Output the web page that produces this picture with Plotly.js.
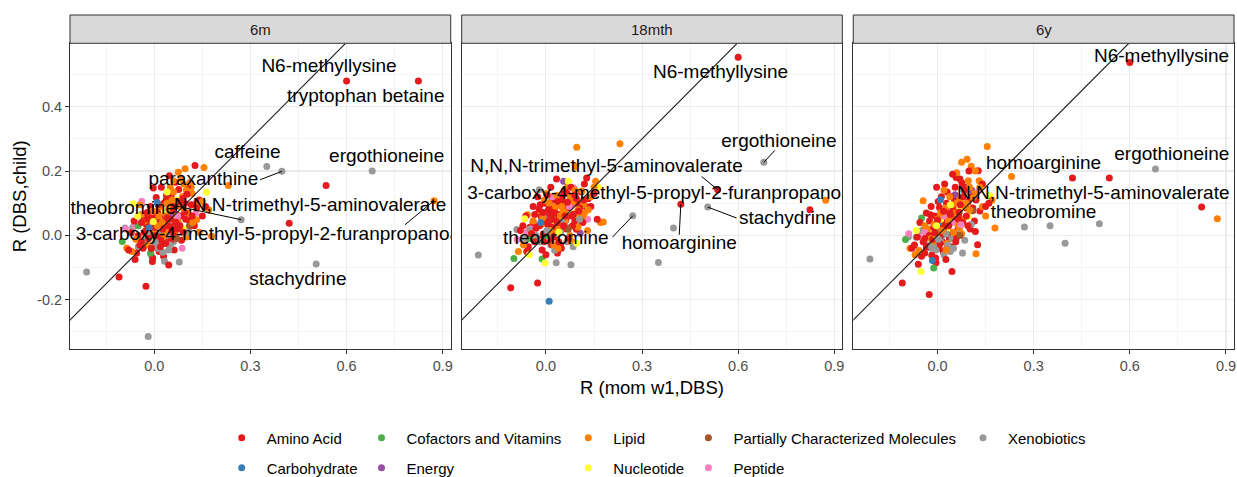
<!DOCTYPE html>
<html><head><meta charset="utf-8">
<script src="https://cdn.plot.ly/plotly-3.0.1.min.js"></script>
<style>html,body{margin:0;padding:0;background:#fff}#chart{width:1237px;height:477px}</style>
</head><body><div id="chart"></div>
<script>
// ---------------- DATA ----------------
const panels = ['6m', '18mth', '6y'];
const categoryCodes = {A:'Amino Acid', C:'Carbohydrate', V:'Cofactors and Vitamins', E:'Energy', L:'Lipid',
  N:'Nucleotide', P:'Partially Characterized Molecules', Pe:'Peptide', X:'Xenobiotics'};
const legendColumns = [['A','C'], ['V','E'], ['L','N'], ['P','Pe'], ['X']];
const categoryColors = {A:'#E41A1C', C:'#377EB8', V:'#4DAF4A', E:'#984EA3', L:'#FF7F00',
  N:'#FFFF33', P:'#A65628', Pe:'#F781BF', X:'#999999'};

// first ten entries of the value arrays are the named metabolites
const metabolite = ['N6-methyllysine','tryptophan betaine','caffeine','paraxanthine','ergothioneine',
  'N,N,N-trimethyl-5-aminovalerate','3-carboxy-4-methyl-5-propyl-2-furanpropanoate','theobromine','homoarginine','stachydrine'];

function rep(c, n){ const a=[]; for(let i=0;i<n;i++) a.push(c); return a; }
const category = [].concat(
  ['A','A','X','X','X','A','L','X','A','X'],
  ['L','L','X','A','A','X','C','X','L','L','N','A','L','A','A','A','L','A','A'],
  rep('A',60), rep('L',32), rep('X',14),
  ['V','V','V','V','C','C','E','E','P','P','Pe','Pe','Pe','Pe','Pe','Pe','N','N','N','N','N','N'],
  ['A','A','L','A','X','A','L','A','Pe','A', 'L','A','X','A','L','A','N','A','L','A',
   'X','A','L','A','A','L','A','X','A','L', 'A','V','A','L','A','X','A','L','A','Pe',
   'A','L','A','N','A','L','A','X','A','L']
);

const rMomW1 = [
  0.600,0.824,0.351,0.398,0.680,0.536,0.873,0.271,0.421,0.505,
  0.231,0.179,-0.211,-0.110,-0.026,-0.019,0.010,0.078,0.096,0.155,0.163,0.127,0.132,0.045,-0.006,-0.003,0.120,0.118,0.125,
  0.012,-0.031,0.067,0.024,0.051,0.095,-0.009,0.076,0.018,0.041,
  -0.022,0.132,0.006,-0.045,0.058,0.029,-0.063,0.102,0.015,0.048,
  -0.018,0.083,0.037,-0.072,0.120,0.000,0.062,0.022,-0.035,0.090,
  0.044,0.140,-0.005,0.071,0.033,-0.055,0.115,0.008,0.053,-0.026,
  0.098,0.019,0.066,-0.012,0.085,0.150,0.030,-0.040,0.105,0.057,
  0.002,0.078,-0.080,0.160,0.036,0.047,0.026,-0.060,0.060,0.004,
  0.045,0.088,-0.014,0.034,0.112,0.063,-0.058,0.075,0.092,-0.086,
  0.020,0.150,0.010,-0.030,0.060,0.140,0.027,0.080,-0.045,0.105,
  0.050,0.170,0.001,0.118,0.038,0.068,-0.020,0.085,0.014,0.130,
  -0.070,0.100,
  0.003,-0.067,0.027,0.032,-0.091,0.010,-0.021,0.050,0.065,-0.050,0.020,0.105,-0.010,0.040,
  -0.100,-0.012,0.025,-0.050,0.009,-0.016,0.107,0.055,0.110,0.070,
  0.087,-0.039,-0.090,0.073,0.130,0.020,-0.066,-0.003,0.096,0.070,-0.052,0.040,
  0.021,-0.015,0.055,0.035,-0.030,0.010,0.025,0.080,-0.060,-0.040,
  0.100,0.015,0.045,0.065,-0.010,0.005,0.030,0.050,0.070,-0.025,
  0.015,0.090,0.040,-0.050,0.028,0.115,0.060,-0.005,0.110,-0.040,
  0.038,0.005,-0.008,0.075,0.055,0.085,0.012,0.030,0.095,0.045,
  -0.020,0.060,0.020,0.010,0.070,-0.005,0.040,0.060,-0.035,0.090
];
const r6m = [
  0.480,0.480,0.214,0.199,0.200,0.155,0.108,0.049,0.038,-0.089,
  0.155,-0.003,-0.114,-0.129,-0.158,-0.314,0.046,-0.083,0.207,0.211,0.134,0.217,0.049,-0.092,-0.081,0.147,0.040,0.060,0.030,
  0.035,0.010,0.041,0.064,-0.018,0.072,-0.041,0.143,0.002,0.031,
  0.071,0.085,0.118,-0.030,0.095,-0.065,0.045,0.128,0.080,0.005,
  -0.010,0.060,0.110,0.008,0.040,0.025,-0.045,0.150,0.060,0.010,
  0.070,0.110,-0.070,0.020,0.045,-0.055,0.095,0.058,0.125,0.015,
  0.050,-0.035,0.165,0.090,-0.015,0.060,0.100,0.040,0.155,0.028,
  -0.025,0.105,-0.045,0.090,-0.005,0.185,0.020,-0.075,0.000,0.000,
  0.082,0.121,0.052,0.018,0.165,0.008,-0.012,0.196,0.160,-0.039,
  0.090,0.105,0.030,0.045,0.135,0.010,-0.020,0.090,0.095,0.070,
  0.150,0.080,0.012,0.130,0.060,0.020,-0.030,0.175,0.060,0.100,
  -0.050,-0.005,
  -0.021,0.025,-0.052,-0.080,0.023,-0.040,0.010,-0.030,0.005,-0.035,0.015,0.010,-0.060,0.000,
  -0.019,-0.055,0.010,0.030,0.102,0.023,0.022,0.060,0.030,-0.010,
  -0.040,0.106,0.020,0.060,0.070,-0.030,0.098,0.043,0.020,0.110,0.060,0.135,
  0.041,0.005,0.110,-0.025,-0.015,0.070,0.040,0.030,0.030,-0.020,
  0.140,-0.050,-0.045,0.090,0.020,0.045,0.075,0.050,0.060,0.035,
  -0.005,0.115,0.100,0.000,0.010,0.150,0.080,0.030,0.045,0.065,
  0.125,-0.010,0.055,0.040,0.020,0.020,0.095,0.000,0.100,0.030,
  0.050,0.170,-0.015,0.010,0.065,0.075,0.055,-0.020,-0.040,0.085
];
const r18mth = [
  0.554,0.080,-0.084,0.023,0.227,0.142,0.109,0.061,0.097,0.088,
  0.285,0.042,-0.061,-0.163,-0.148,-0.020,-0.205,-0.091,0.274,0.168,0.150,0.178,0.080,-0.030,-0.020,0.100,0.070,0.110,0.090,
  0.048,0.022,0.103,-0.005,0.088,0.019,0.071,0.092,-0.028,0.055,
  0.082,0.114,0.033,0.005,0.140,0.010,0.060,0.075,0.150,-0.040,
  0.095,0.030,0.066,0.030,0.160,-0.060,0.048,0.110,-0.020,0.125,
  0.015,0.090,0.045,-0.010,0.175,-0.035,0.040,0.080,0.055,0.120,
  0.100,0.025,0.130,-0.045,0.065,0.130,0.000,0.090,0.085,0.135,
  0.010,0.150,0.015,0.050,-0.055,0.120,0.070,-0.050,0.095,0.125,
  0.061,0.067,0.035,0.124,0.138,0.027,0.064,0.120,0.214,-0.050,
  0.060,0.150,0.100,-0.015,0.045,0.120,0.020,-0.020,0.005,0.055,
  0.090,0.040,0.130,0.095,-0.040,0.155,0.075,0.105,0.015,0.015,
  -0.030,0.025,
  0.015,-0.011,-0.046,-0.085,0.018,0.030,0.142,0.045,-0.020,0.020,0.050,0.050,-0.010,0.005,
  -0.072,-0.073,0.082,-0.010,0.101,0.040,0.007,0.168,0.045,0.020,
  0.147,0.035,-0.013,0.090,0.050,0.120,0.052,-0.086,-0.024,0.168,-0.060,0.010,
  0.028,0.058,0.075,0.040,0.000,0.095,-0.030,0.060,0.010,0.040,
  0.080,-0.015,0.010,0.020,0.055,0.015,0.040,0.110,0.100,-0.010,
  -0.030,0.045,0.030,0.025,0.085,0.060,0.060,0.060,0.135,0.045,
  0.105,0.000,0.005,0.000,0.030,-0.035,0.065,0.090,0.115,0.060,
  0.030,0.070,0.050,0.020,0.085,0.110,-0.020,0.030,0.065,0.140
];
const r6y = [
  0.537,0.088,0.030,-0.024,0.206,0.178,0.052,0.026,0.178,0.036,
  0.183,0.023,-0.073,-0.148,-0.184,-0.035,0.030,-0.055,0.170,0.276,0.124,0.201,0.150,-0.112,-0.070,0.150,-0.057,0.012,-0.029,
  0.020,-0.035,0.072,0.041,0.058,0.104,0.008,0.163,-0.051,0.121,
  0.064,0.076,0.087,-0.020,0.180,-0.040,-0.005,0.020,0.035,0.085,
  -0.062,0.140,-0.010,-0.030,0.110,0.048,0.015,0.160,0.070,0.060,
  -0.035,0.160,-0.085,0.095,0.055,0.040,0.045,-0.025,0.110,0.000,
  0.200,0.075,0.065,0.025,0.150,0.090,0.135,-0.055,0.120,-0.020,
  0.105,0.040,-0.040,0.100,0.010,0.190,-0.075,-0.090,0.000,-0.005,
  0.095,0.135,-0.022,0.044,0.118,0.033,-0.047,0.227,0.237,-0.040,
  0.140,0.060,0.070,0.020,0.195,0.090,-0.045,0.050,0.108,0.215,
  0.010,0.110,0.052,0.200,0.120,0.020,-0.010,0.090,0.015,0.170,
  -0.060,0.080,
  -0.012,-0.006,0.005,-0.030,-0.005,-0.020,-0.040,-0.040,0.040,0.015,-0.060,0.035,-0.025,-0.050,
  -0.013,-0.101,0.054,0.054,0.111,-0.078,0.140,0.126,0.077,0.000,
  0.140,0.009,0.005,0.033,0.140,0.060,0.015,0.030,0.059,0.080,-0.112,0.095,
  0.052,-0.012,0.070,0.030,-0.030,0.000,0.085,0.120,0.000,-0.010,
  0.150,-0.020,-0.010,0.050,0.035,-0.040,0.020,0.075,0.110,0.045,
  0.000,0.085,0.060,-0.065,0.100,0.130,-0.005,-0.045,0.085,0.030,
  0.070,0.010,0.060,0.005,0.150,-0.015,0.120,-0.025,0.030,0.040,
  0.090,0.100,0.025,0.050,0.175,0.000,0.065,0.005,-0.035,0.100
];
const panelValues = [r6m, r18mth, r6y];

const xTickVals = [0, 0.3, 0.6, 0.9];
const xTickText = ['0.0', '0.3', '0.6', '0.9'];
const yTickVals = [-0.2, 0, 0.2, 0.4];
const yTickText = ['-0.2', '0.0', '0.2', '0.4'];

// label placement (text centre, optional segment start) — layout only
const labelPlacement = [
  {panel:0, name:'N6-methyllysine', tx:0.545, ty:0.522},
  {panel:0, name:'tryptophan betaine', tx:0.660, ty:0.430},
  {panel:0, name:'caffeine', tx:0.291, ty:0.256},
  {panel:0, name:'paraxanthine', tx:0.153, ty:0.170, sx:0.330, sy:0.173},
  {panel:0, name:'ergothioneine', tx:0.725, ty:0.242},
  {panel:0, name:'theobromine', tx:-0.097, ty:0.080, sx:0.065, sy:0.092},
  {panel:0, name:'N,N,N-trimethyl-5-aminovalerate', tx:0.486, ty:0.090},
  {panel:0, name:'3-carboxy-4-methyl-5-propyl-2-furanpropanoate', tx:0.379, ty:-0.001, sx:0.782, sy:0.033},
  {panel:0, name:'stachydrine', tx:0.448, ty:-0.138},
  {panel:1, name:'N6-methyllysine', tx:0.545, ty:0.504},
  {panel:1, name:'ergothioneine', tx:0.727, ty:0.290, sx:0.714, sy:0.264},
  {panel:1, name:'N,N,N-trimethyl-5-aminovalerate', tx:0.189, ty:0.212, sx:0.486, sy:0.183},
  {panel:1, name:'3-carboxy-4-methyl-5-propyl-2-furanpropanoate', tx:0.379, ty:0.129},
  {panel:1, name:'stachydrine', tx:0.754, ty:0.049, sx:0.595, sy:0.054},
  {panel:1, name:'homoarginine', tx:0.416, ty:-0.026, sx:0.416, sy:0.002},
  {panel:1, name:'theobromine', tx:0.031, ty:-0.011, sx:0.208, sy:-0.005},
  {panel:2, name:'N6-methyllysine', tx:0.699, ty:0.553},
  {panel:2, name:'ergothioneine', tx:0.731, ty:0.248},
  {panel:2, name:'homoarginine', tx:0.331, ty:0.220},
  {panel:2, name:'N,N,N-trimethyl-5-aminovalerate', tx:0.486, ty:0.128},
  {panel:2, name:'theobromine', tx:0.331, ty:0.068}
];

// ---------------- LAYOUT CONSTANTS ----------------
const FONT = 'Liberation Sans, Arial, Helvetica, sans-serif';
const xRange = [-0.263, 0.925];
const yRange = [-0.353, 0.597];
const xDomains = [[0, 0.3271], [0.3365, 0.6635], [0.6729, 1]];
const yTop = 0.9153;

// ---------------- TRACES ----------------
const n = rMomW1.length;
const order = [];
for (let i = 0; i < n; i++) order.push(i);
order.sort((a, b) => ((a * 53) % n) - ((b * 53) % n));

const traces = [];
panels.forEach((p, k) => {
  const ax = k === 0 ? '' : String(k + 1);
  const vals = panelValues[k];
  traces.push({
    type:'scatter', mode:'markers', xaxis:'x'+ax, yaxis:'y'+ax, showlegend:false, hoverinfo:'skip',
    x: order.map(i => rMomW1[i]), y: order.map(i => vals[i]),
    marker:{size:7, color: order.map(i => categoryColors[category[i]]), line:{width:0}}
  });
  traces.push({
    type:'scatter', mode:'lines', xaxis:'x'+ax, yaxis:'y'+ax, showlegend:false, hoverinfo:'skip',
    x:[xRange[0]-0.1, xRange[1]+0.1], y:[xRange[0]-0.1, xRange[1]+0.1],
    line:{color:'#1a1a1a', width:1.1}
  });
});
labelPlacement.forEach(lp => {
  const ax = lp.panel === 0 ? '' : String(lp.panel + 1);
  const idx = metabolite.indexOf(lp.name);
  if (lp.sx !== undefined) {
    traces.push({type:'scatter', mode:'lines', xaxis:'x'+ax, yaxis:'y'+ax, showlegend:false, hoverinfo:'skip',
      x:[lp.sx, rMomW1[idx]], y:[lp.sy, panelValues[lp.panel][idx]], line:{color:'#000', width:1}});
  }
});
labelPlacement.forEach(lp => {
  const ax = lp.panel === 0 ? '' : String(lp.panel + 1);
  traces.push({type:'scatter', mode:'text', xaxis:'x'+ax, yaxis:'y'+ax, showlegend:false, hoverinfo:'skip',
    x:[lp.tx], y:[lp.ty], text:[lp.name], textposition:'middle center', cliponaxis:true,
    textfont:{family:FONT, size:19, color:'#000'}});
});
// legend entries
legendColumns.forEach((col, c) => {
  col.forEach(code => {
    traces.push({type:'scatter', mode:'markers', x:[null], y:[null], name:categoryCodes[code],
      legendgroup:code, legend: c === 0 ? 'legend' : 'legend' + (c + 1), showlegend:true, hoverinfo:'skip',
      marker:{size:7, color:categoryColors[code]}});
  });
});

// ---------------- LAYOUT ----------------
const layout = {
  width:1237, height:477, margin:{l:70, r:3, t:15, b:128, autoexpand:false},
  paper_bgcolor:'#fff', plot_bgcolor:'#fff', hovermode:false,
  font:{family:FONT, color:'#000'},
  shapes:[], annotations:[]
};
const legendLefts = [216.7, 356.5, 563.3, 683.4, 958];
legendLefts.forEach((px, c) => {
  layout[c === 0 ? 'legend' : 'legend' + (c + 1)] = {
    xref:'container', yref:'container',
    x:px / 1237, y:1 - 421.5 / 477, xanchor:'left', yanchor:'top', orientation:'v',
    itemwidth:40, tracegroupgap:7.5, bgcolor:'rgba(0,0,0,0)',
    font:{family:FONT, size:15, color:'#000'}
  };
});
panels.forEach((p, k) => {
  const ax = k === 0 ? '' : String(k + 1);
  layout['xaxis' + ax] = {
    domain:xDomains[k], anchor:'y'+ax, range:xRange, tickmode:'array', tickvals:xTickVals, ticktext:xTickText,
    ticks:'outside', ticklen:4, tickwidth:1, tickcolor:'#333333', ticklabelstandoff:0,
    tickfont:{family:FONT, size:14.5, color:'#4D4D4D'},
    showgrid:true, gridcolor:'#EBEBEB', gridwidth:1.1,
    minor:{tickmode:'array', tickvals:[-0.15, 0.15, 0.45, 0.75], showgrid:true, gridcolor:'#EBEBEB', gridwidth:0.55, ticks:''},
    zeroline:false, showline:true, mirror:true, linecolor:'#333333', linewidth:1, fixedrange:true
  };
  layout['yaxis' + ax] = {
    domain:[0, yTop], anchor:'x'+ax, range:yRange, tickmode:'array', tickvals:yTickVals, ticktext:yTickText,
    ticks: k === 0 ? 'outside' : '', ticklen:4, tickwidth:1, tickcolor:'#333333', showticklabels: k === 0,
    tickfont:{family:FONT, size:14.5, color:'#4D4D4D'},
    showgrid:true, gridcolor:'#EBEBEB', gridwidth:1.1,
    minor:{tickmode:'array', tickvals:[-0.3, -0.1, 0.1, 0.3, 0.5], showgrid:true, gridcolor:'#EBEBEB', gridwidth:0.55, ticks:''},
    zeroline:false, showline:true, mirror:true, linecolor:'#333333', linewidth:1, fixedrange:true
  };
  layout.shapes.push({type:'rect', xref:'x'+ax+' domain', yref:'paper', x0:0, x1:1, y0:yTop, y1:1,
    fillcolor:'#D9D9D9', line:{color:'#333333', width:1}, layer:'above'});
  layout.annotations.push({xref:'x'+ax+' domain', yref:'paper', x:0.5, y:(yTop + 1) / 2, text:p, showarrow:false,
    xanchor:'center', yanchor:'middle', font:{family:FONT, size:15, color:'#1A1A1A'}});
});
layout.annotations.push({xref:'paper', yref:'paper', x:0.5, y:(349 - 387.7) / 334, text:'R (mom w1,DBS)', showarrow:false,
  xanchor:'center', yanchor:'middle', font:{family:FONT, size:18.5, color:'#000'}});
layout.annotations.push({xref:'paper', yref:'paper', x:(19 - 70) / 1164, y:(349 - 196.3) / 334, text:'R (DBS,child)', showarrow:false,
  textangle:-90, xanchor:'center', yanchor:'middle', font:{family:FONT, size:18.5, color:'#000'}});

Plotly.newPlot('chart', traces, layout, {displayModeBar:false, staticPlot:true});
</script>
</body></html>
